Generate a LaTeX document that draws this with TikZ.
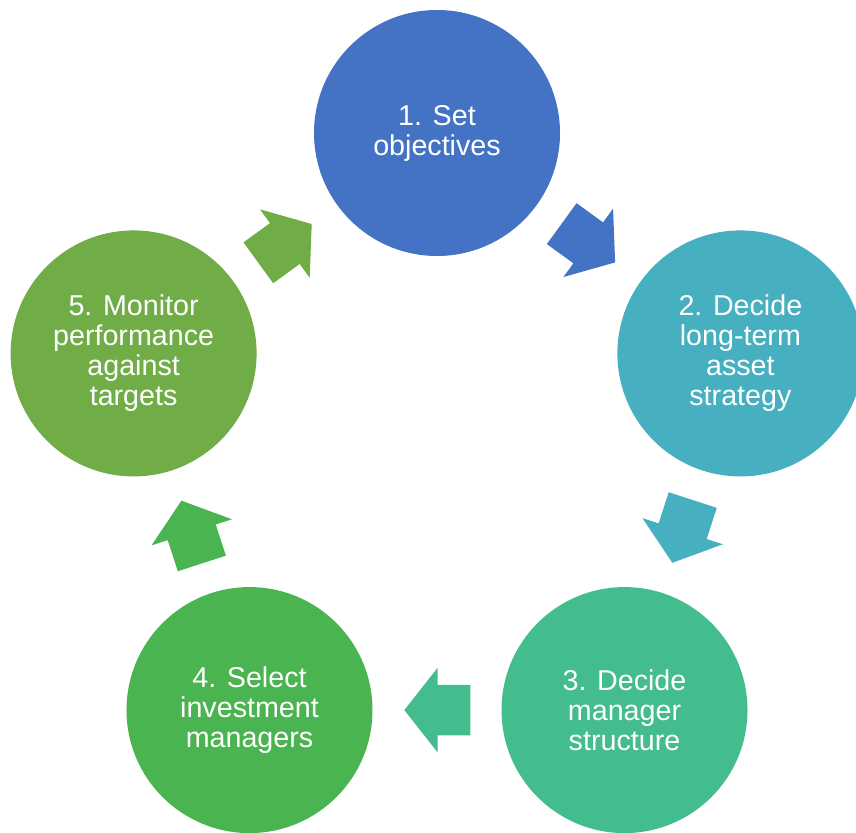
\documentclass[tikz,border=0pt]{standalone}
\usepackage{fontspec}
\setmainfont{Liberation Sans}
\usetikzlibrary{shapes.arrows}
\definecolor{cA}{HTML}{4472C4}
\definecolor{cB}{HTML}{46AFC0}
\definecolor{cC}{HTML}{43BC8E}
\definecolor{cD}{HTML}{4AB450}
\definecolor{cE}{HTML}{70AD47}
\begin{document}
\begin{tikzpicture}[x=0.75pt,y=0.75pt,
  stage/.style={circle,fill=#1,minimum size=184.5pt,inner sep=0pt,text=white,align=center,
    font=\fontsize{21.5pt}{22.5pt}\selectfont},
  flow/.style={single arrow,fill=#1,inner xsep=0pt,inner ysep=18.75pt,minimum height=49.5pt,
    single arrow head extend=12.75pt,single arrow tip angle=103.6,sloped,allow upside down,pos=0.42}]
	\useasboundingbox (-437,-380) rectangle (419,452);
	\clip (-437,-380) rectangle (419,452);
	\node[stage=cA] (s1) at (90:319) {1. Set\\objectives};
	\node[stage=cB] (s2) at (18:319) {2. Decide\\long-term\\asset\\strategy};
	\node[stage=cC] (s3) at (-54:319) {3. Decide\\manager\\structure};
	\node[stage=cD] (s4) at (-126:319) {4. Select\\investment\\managers};
	\node[stage=cE] (s5) at (-198:319) {5. Monitor\\performance\\against\\targets};
	\path (s1) -- node[flow=cA]{} (s2);
	\path (s2) -- node[flow=cB]{} (s3);
	\path (s3) -- node[flow=cC]{} (s4);
	\path (s4) -- node[flow=cD]{} (s5);
	\path (s5) -- node[flow=cE]{} (s1);
\end{tikzpicture}
\end{document}
